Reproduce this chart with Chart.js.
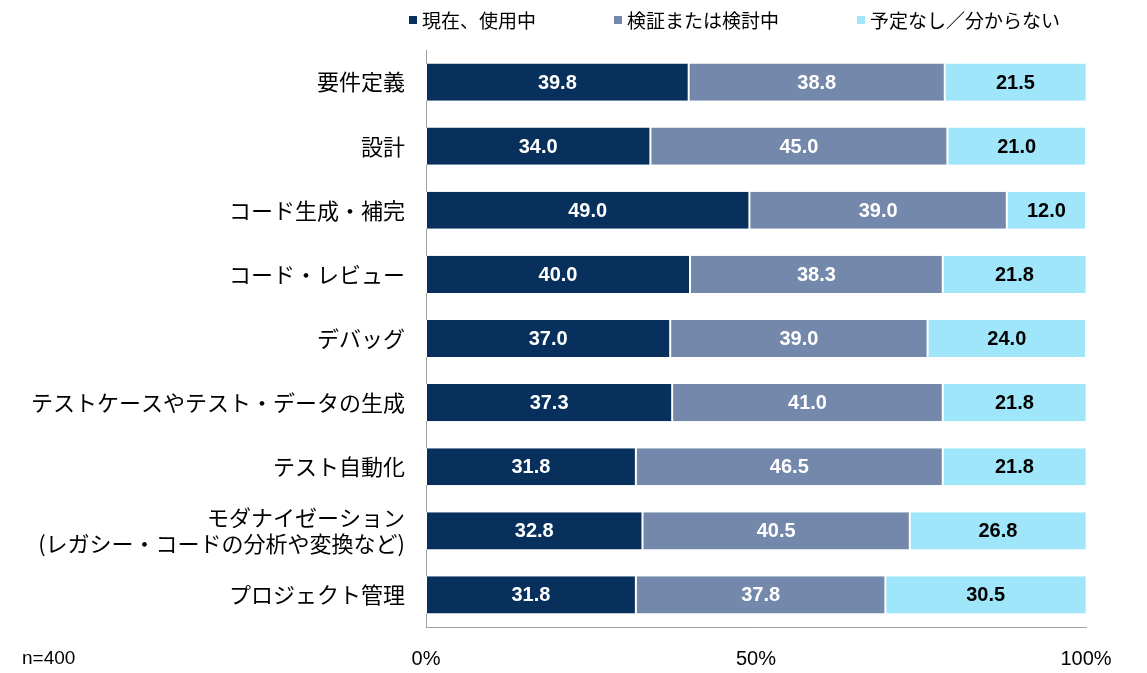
<!DOCTYPE html>
<html>
<head>
<meta charset="utf-8">
<script src="https://cdn.jsdelivr.net/npm/chart.js@4"></script>
<style>
  body { margin: 0; background: #fff; }
  #wrap { width: 1147px; height: 673px; }
</style>
</head>
<body>
<div id="wrap"><canvas id="GraficoUso"></canvas></div>
<script>
var categorias = [
    "要件定義",
    "設計",
    "コード生成・補完",
    "コード・レビュー",
    "デバッグ",
    "テストケースやテスト・データの生成",
    "テスト自動化",
    ["モダナイゼーション", "(レガシー・コードの分析や変換など)"],
    "プロジェクト管理"
];
var usoAtual = [39.8, 34.0, 49.0, 40.0, 37.0, 37.3, 31.8, 32.8, 31.8];
var emAvaliacao = [38.8, 45.0, 39.0, 38.3, 39.0, 41.0, 46.5, 40.5, 37.8];
var semPlano = [21.5, 21.0, 12.0, 21.8, 24.0, 21.8, 21.8, 26.8, 30.5];
var nomesSeries = ["現在、使用中", "検証または検討中", "予定なし／分からない"];
var coresSeries = ["#08305d", "#7388ab", "#9fe6fa"];
var ticksX = [0, 50, 100];

var fonteJp = "'Noto Sans CJK JP', 'Liberation Sans', sans-serif";
var fonteNum = "'Liberation Sans', Arial, sans-serif";

// rotulos dentro das barras, legenda e n=400
var rotulosValores = {
    id: 'rotulosValores',
    afterDatasetsDraw: function (chart) {
        var ctx = chart.ctx;
        ctx.save();
        ctx.font = "bold 20px " + fonteNum;
        ctx.textAlign = "center";
        ctx.textBaseline = "middle";
        chart.data.datasets.forEach(function (ds, i) {
            var meta = chart.getDatasetMeta(i);
            meta.data.forEach(function (bar, j) {
                var fim = Math.min(bar.x, chart.chartArea.right);
                ctx.fillStyle = i === 2 ? "#000" : "#fff";
                ctx.fillText(ds.data[j].toFixed(1), (bar.base + fim) / 2, bar.y + 1);
            });
        });

        // legenda
        ctx.font = "19px " + fonteJp;
        ctx.textAlign = "left";
        var x = 409, y = 20;
        chart.data.datasets.forEach(function (ds) {
            ctx.fillStyle = ds.backgroundColor;
            ctx.fillRect(x, y - 4, 8, 8);
            ctx.fillStyle = "#000";
            ctx.fillText(ds.label, x + 13, y + 1);
            x += 13 + ctx.measureText(ds.label).width + 78;
        });

        ctx.font = "19px " + fonteNum;
        ctx.fillStyle = "#000";
        ctx.fillText("n=400", 22, 659);
        ctx.restore();
    }
};

var ctx = document.getElementById('GraficoUso').getContext('2d');
var grafico = new Chart(ctx, {
    type: 'bar',
    data: {
        labels: categorias,
        datasets: [
            { label: nomesSeries[0], data: usoAtual, backgroundColor: coresSeries[0] },
            { label: nomesSeries[1], data: emAvaliacao, backgroundColor: coresSeries[1] },
            { label: nomesSeries[2], data: semPlano, backgroundColor: coresSeries[2] }
        ].map(function (d) {
            d.borderColor = "#fff";
            d.borderWidth = { left: 1, right: 1 };
            d.borderSkipped = false;
            d.categoryPercentage = 1;
            d.barPercentage = 0.58;
            return d;
        })
    },
    plugins: [rotulosValores],
    options: {
        responsive: true,
        maintainAspectRatio: false,
        animation: false,
        indexAxis: 'y',
        layout: { padding: { left: 0, right: 61, top: 50, bottom: 0 } },
        plugins: {
            legend: { display: false },
            tooltip: { enabled: false }
        },
        scales: {
            x: {
                stacked: true,
                min: 0,
                max: 100,
                afterBuildTicks: function (axis) {
                    axis.ticks = ticksX.map(function (v) { return { value: v }; });
                },
                afterFit: function (axis) { axis.height = 46; },
                grid: { display: false },
                border: { color: "#a0a0a0", width: 1 },
                ticks: {
                    color: "#000",
                    padding: 12,
                    maxRotation: 0,
                    font: { family: fonteNum, size: 20 },
                    callback: function (v) { return v + "%"; }
                }
            },
            y: {
                stacked: true,
                afterFit: function (axis) { axis.width = 426; },
                grid: { display: false },
                border: { color: "#a0a0a0", width: 1 },
                ticks: {
                    color: "#000",
                    padding: 13,
                    font: { family: fonteJp, size: 22 }
                }
            }
        }
    }
});
</script>
</body>
</html>
